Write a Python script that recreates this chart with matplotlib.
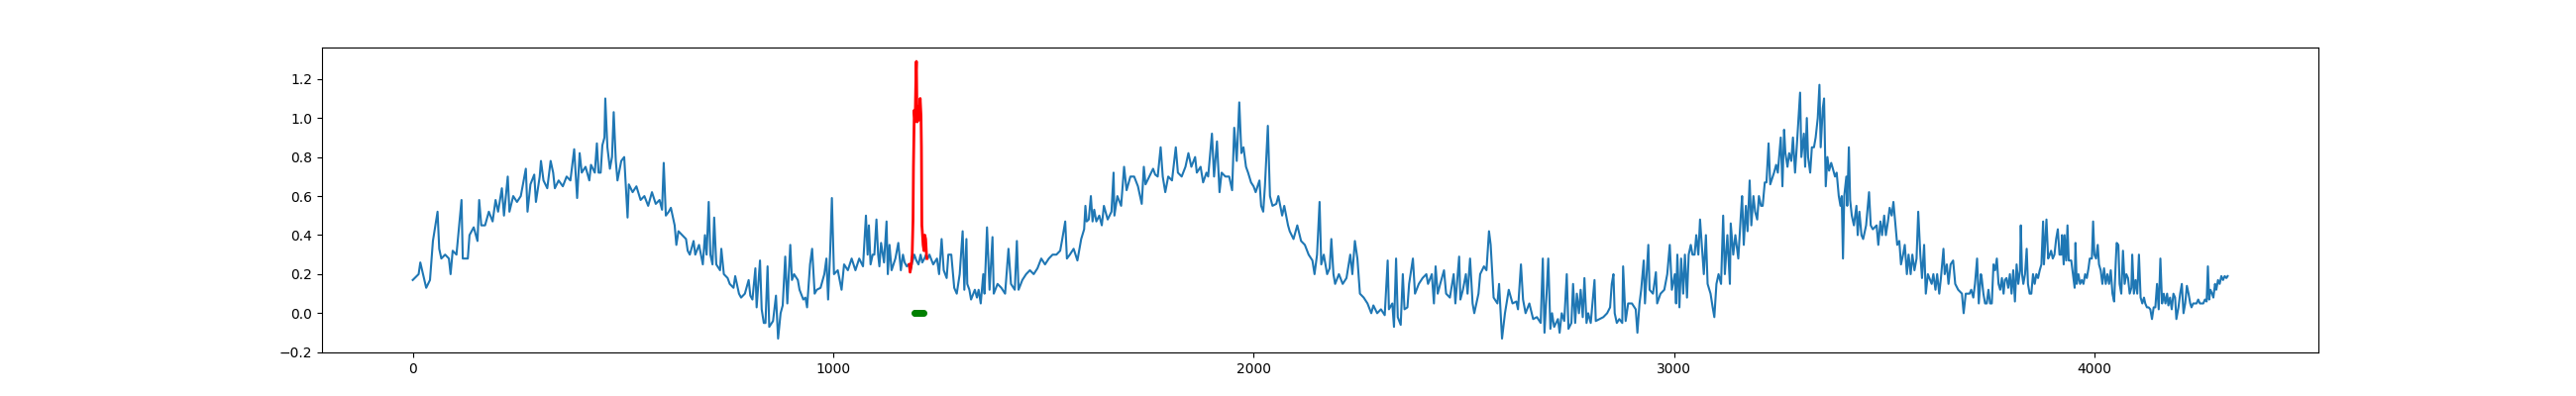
import matplotlib
matplotlib.use("Agg")
import matplotlib.pyplot as plt

# blue series: (index, value)
blue_pts = [
    (0, 0.17), (14, 0.2), (18, 0.26), (32, 0.13), (41, 0.17), (48, 0.37), (54, 0.45), (59, 0.52),
    (63, 0.33), (68, 0.28), (77, 0.3), (86, 0.28), (90, 0.2), (95, 0.32), (104, 0.3), (116, 0.58),
    (119, 0.28), (131, 0.28), (135, 0.4), (145, 0.44), (154, 0.37), (158, 0.58), (163, 0.45), (172, 0.45),
    (181, 0.52), (190, 0.47), (197, 0.58), (203, 0.52), (212, 0.64), (217, 0.5), (226, 0.7), (230, 0.52),
    (239, 0.6), (248, 0.57), (257, 0.6), (269, 0.74), (273, 0.52), (280, 0.66), (289, 0.71), (293, 0.57),
    (302, 0.7), (305, 0.78), (311, 0.68), (320, 0.64), (328, 0.78), (334, 0.72), (338, 0.64), (347, 0.68),
    (357, 0.65), (366, 0.7), (375, 0.68), (384, 0.84), (388, 0.7), (391, 0.59), (397, 0.82), (402, 0.72),
    (411, 0.75), (420, 0.68), (424, 0.76), (433, 0.72), (438, 0.87), (442, 0.72), (447, 0.72), (451, 0.86),
    (456, 0.9), (458, 1.1), (463, 0.85), (469, 0.74), (474, 0.8), (478, 1.03), (483, 0.78), (487, 0.68),
    (496, 0.78), (503, 0.8), (508, 0.6), (511, 0.49), (514, 0.66), (523, 0.62), (532, 0.65), (542, 0.58),
    (551, 0.6), (560, 0.55), (569, 0.62), (578, 0.56), (587, 0.58), (593, 0.53), (597, 0.77), (602, 0.5),
    (609, 0.52), (614, 0.54), (623, 0.45), (627, 0.35), (632, 0.42), (641, 0.4), (650, 0.38), (654, 0.32),
    (659, 0.3), (668, 0.37), (672, 0.3), (681, 0.35), (690, 0.25), (695, 0.4), (699, 0.3), (704, 0.57),
    (708, 0.3), (713, 0.25), (717, 0.49), (722, 0.25), (731, 0.22), (734, 0.33), (740, 0.2), (749, 0.18),
    (754, 0.15), (763, 0.13), (767, 0.19), (776, 0.1), (781, 0.08), (790, 0.1), (799, 0.17), (803, 0.09),
    (808, 0.07), (815, 0.23), (818, 0.03), (826, 0.27), (830, 0.02), (835, -0.05), (839, -0.05), (844, 0.24),
    (848, -0.07), (857, -0.04), (864, 0.09), (869, -0.13), (875, 0.0), (880, 0.04), (886, 0.29), (891, 0.05),
    (898, 0.35), (902, 0.17), (907, 0.2), (916, 0.17), (920, 0.12), (929, 0.07), (934, 0.08), (938, 0.03),
    (945, 0.25), (950, 0.33), (956, 0.1), (961, 0.12), (970, 0.13), (979, 0.2), (984, 0.28), (988, 0.07),
    (993, 0.32), (997, 0.59), (1002, 0.2), (1011, 0.22), (1020, 0.12),
    (1026, 0.25), (1035, 0.22), (1044, 0.28), (1053, 0.22), (1062, 0.28), (1071, 0.24), (1078, 0.5), (1082, 0.3),
    (1085, 0.45), (1089, 0.25), (1094, 0.3), (1098, 0.3), (1103, 0.48), (1107, 0.3), (1110, 0.24), (1114, 0.36),
    (1121, 0.26), (1127, 0.47), (1130, 0.2), (1134, 0.35), (1139, 0.22), (1148, 0.28), (1155, 0.36), (1161, 0.22),
    (1166, 0.3), (1170, 0.26), (1175, 0.24), (1179, 0.25), (1184, 0.22), (1188, 0.26), (1193, 0.3), (1198, 0.27),
    (1203, 0.25), (1208, 0.3), (1212, 0.26), (1217, 0.28), (1221, 0.3), (1225, 0.28), (1229, 0.3), (1238, 0.25),
    (1247, 0.28), (1252, 0.2), (1258, 0.38), (1263, 0.22), (1270, 0.18), (1274, 0.3), (1281, 0.3), (1288, 0.13),
    (1294, 0.1), (1301, 0.2), (1308, 0.42), (1312, 0.12), (1317, 0.38), (1319, 0.15), (1324, 0.12), (1328, 0.07),
    (1337, 0.12), (1342, 0.08), (1346, 0.12), (1351, 0.05), (1357, 0.2), (1360, 0.1), (1366, 0.44), (1372, 0.12),
    (1379, 0.39), (1382, 0.1), (1391, 0.15), (1400, 0.13), (1409, 0.1), (1417, 0.33), (1423, 0.15), (1432, 0.12),
    (1437, 0.37), (1441, 0.12), (1450, 0.17), (1459, 0.2), (1468, 0.22), (1477, 0.2), (1486, 0.23), (1495, 0.28),
    (1504, 0.25), (1513, 0.28), (1522, 0.3), (1531, 0.3), (1540, 0.32), (1545, 0.38), (1552, 0.47), (1556, 0.28),
    (1563, 0.3), (1572, 0.33), (1581, 0.27), (1590, 0.38), (1597, 0.43), (1600, 0.55), (1603, 0.47), (1608, 0.48),
    (1613, 0.6), (1617, 0.47), (1621, 0.53), (1626, 0.47), (1633, 0.5), (1639, 0.45), (1644, 0.55), (1653, 0.48),
    (1662, 0.52), (1667, 0.72), (1669, 0.5), (1676, 0.6), (1685, 0.55), (1692, 0.75), (1698, 0.63), (1707, 0.7),
    (1716, 0.7), (1725, 0.65), (1734, 0.56), (1739, 0.75), (1743, 0.66), (1752, 0.7), (1761, 0.74), (1766, 0.71),
    (1772, 0.7), (1779, 0.85), (1784, 0.7), (1790, 0.62), (1797, 0.7), (1806, 0.68), (1815, 0.85), (1820, 0.72),
    (1829, 0.7), (1838, 0.75), (1845, 0.82), (1852, 0.75), (1861, 0.8), (1865, 0.72), (1874, 0.75), (1880, 0.67),
    (1888, 0.72), (1892, 0.7), (1901, 0.92), (1906, 0.7), (1913, 0.88), (1919, 0.62), (1924, 0.72), (1933, 0.7),
    (1942, 0.7), (1949, 0.63), (1954, 0.95), (1960, 0.78), (1966, 1.08), (1971, 0.82), (1976, 0.85), (1982, 0.75),
    (1987, 0.72), (1994, 0.67), (2000, 0.65), (2005, 0.62), (2014, 0.68), (2018, 0.55), (2023, 0.52), (2027, 0.65),
    (2034, 0.96), (2039, 0.6), (2045, 0.55), (2054, 0.56), (2059, 0.6), (2068, 0.5), (2073, 0.55), (2082, 0.45),
    (2086, 0.42), (2095, 0.38), (2104, 0.45), (2113, 0.37), (2122, 0.35), (2131, 0.3), (2140, 0.27), (2145, 0.2),
    (2151, 0.3), (2157, 0.57), (2161, 0.25), (2167, 0.3), (2175, 0.2), (2181, 0.23), (2185, 0.38), (2190, 0.2),
    (2194, 0.15), (2203, 0.2), (2212, 0.15), (2221, 0.18), (2230, 0.3), (2235, 0.2), (2241, 0.37), (2247, 0.28),
    (2253, 0.1), (2262, 0.08), (2271, 0.05), (2280, 0.0), (2285, 0.04), (2294, 0.0), (2303, 0.02), (2312, -0.01),
    (2319, 0.27), (2322, 0.02), (2330, 0.05), (2334, -0.07), (2339, 0.28), (2343, -0.02), (2350, -0.06), (2355, 0.2),
    (2359, 0.02), (2366, 0.03), (2370, 0.15), (2379, 0.28), (2384, 0.1), (2393, 0.15), (2402, 0.18), (2411, 0.2),
    (2415, 0.15), (2424, 0.2), (2429, 0.05), (2433, 0.24),
    (2438, 0.1), (2444, 0.15), (2453, 0.22), (2458, 0.1), (2467, 0.08), (2476, 0.2), (2480, 0.05), (2489, 0.29),
    (2492, 0.07), (2498, 0.12), (2505, 0.2), (2509, 0.1), (2515, 0.28), (2521, 0.05), (2525, 0.0), (2535, 0.1),
    (2539, 0.2), (2548, 0.24), (2554, 0.22), (2560, 0.42), (2564, 0.35), (2571, 0.08), (2580, 0.05), (2584, 0.15),
    (2589, -0.05), (2591, -0.13), (2598, 0.0), (2607, 0.12), (2616, 0.05), (2625, 0.06), (2629, 0.02), (2636, 0.25),
    (2641, 0.07), (2647, 0.0), (2656, 0.05), (2665, -0.03), (2674, -0.02), (2683, -0.05), (2688, 0.28), (2692, -0.1),
    (2697, 0.1), (2701, 0.28), (2706, -0.08), (2710, 0.0), (2715, -0.07), (2724, -0.03), (2728, -0.1), (2733, 0.0),
    (2739, -0.04), (2745, 0.2), (2749, -0.08), (2756, -0.05), (2760, 0.15), (2765, -0.05), (2769, 0.1), (2774, 0.0),
    (2778, 0.12), (2783, -0.02), (2787, 0.18), (2792, -0.05), (2796, 0.0), (2802, -0.05), (2811, 0.17), (2814, -0.04),
    (2823, -0.03), (2832, -0.02), (2841, 0.0), (2848, 0.03), (2852, 0.15), (2856, 0.2), (2859, 0.0), (2864, -0.05),
    (2870, -0.03), (2877, -0.05), (2879, 0.24), (2885, -0.04), (2891, 0.05), (2900, 0.05), (2909, 0.02), (2913, -0.1),
    (2918, 0.05), (2922, 0.12), (2928, 0.27), (2931, 0.05), (2939, 0.35), (2942, 0.12), (2950, 0.1), (2957, 0.21),
    (2960, 0.05), (2968, 0.1), (2977, 0.12), (2984, 0.2), (2990, 0.35), (2995, 0.12), (3002, 0.2), (3005, 0.05),
    (3008, 0.3), (3013, 0.03), (3017, 0.28), (3022, 0.1), (3026, 0.3), (3031, 0.08), (3035, 0.3), (3040, 0.35),
    (3044, 0.3), (3049, 0.3), (3053, 0.4), (3058, 0.3), (3062, 0.48), (3067, 0.32), (3071, 0.2), (3076, 0.4),
    (3080, 0.15), (3087, 0.1), (3092, 0.03), (3096, -0.02), (3101, 0.15), (3106, 0.2), (3112, 0.15), (3117, 0.5),
    (3121, 0.2), (3127, 0.4), (3133, 0.15), (3135, 0.46), (3141, 0.3), (3146, 0.4), (3153, 0.28), (3159, 0.5),
    (3162, 0.6), (3166, 0.35), (3171, 0.55), (3175, 0.42), (3180, 0.68), (3184, 0.45), (3189, 0.6), (3193, 0.52),
    (3198, 0.48), (3202, 0.6), (3207, 0.55), (3211, 0.55), (3216, 0.67), (3220, 0.67), (3225, 0.87), (3229, 0.66),
    (3238, 0.72), (3243, 0.76), (3247, 0.72), (3254, 0.9), (3258, 0.65), (3262, 0.94), (3265, 0.82), (3270, 0.75),
    (3274, 0.82), (3279, 0.78), (3283, 0.9), (3288, 0.72), (3292, 0.85), (3300, 1.13), (3303, 0.8), (3309, 0.92),
    (3312, 0.75), (3316, 1.0), (3319, 0.8), (3324, 0.72), (3328, 0.85), (3333, 0.85), (3337, 0.9), (3342, 1.0),
    (3346, 1.17), (3349, 0.85), (3354, 1.05), (3357, 1.1), (3361, 0.65), (3365, 0.8), (3369, 0.73), (3374, 0.77),
    (3378, 0.74), (3383, 0.7), (3387, 0.72), (3392, 0.6), (3396, 0.55), (3399, 0.6), (3402, 0.28), (3405, 0.6),
    (3410, 0.7), (3412, 0.55), (3416, 0.85), (3419, 0.58), (3423, 0.5), (3428, 0.45), (3434, 0.55), (3437, 0.4),
    (3441, 0.52), (3446, 0.4), (3450, 0.38), (3457, 0.45), (3464, 0.62), (3468, 0.45), (3473, 0.43), (3482, 0.45),
    (3486, 0.35), (3491, 0.47), (3495, 0.4), (3500, 0.5), (3504, 0.4), (3509, 0.47), (3513, 0.54), (3518, 0.5),
    (3522, 0.57), (3527, 0.45), (3531, 0.35), (3536, 0.37), (3540, 0.25), (3545, 0.3), (3549, 0.35), (3554, 0.2),
    (3558, 0.3), (3563, 0.2), (3567, 0.3), (3572, 0.22), (3577, 0.28), (3581, 0.52), (3586, 0.3), (3590, 0.18),
    (3595, 0.35), (3599, 0.1), (3604, 0.2), (3613, 0.15), (3617, 0.2), (3622, 0.12), (3626, 0.2), (3631, 0.1),
    (3635, 0.18), (3641, 0.33), (3644, 0.2), (3649, 0.25), (3653, 0.15), (3658, 0.25), (3664, 0.27), (3669, 0.15),
    (3676, 0.12), (3685, 0.1), (3689, 0.0), (3694, 0.1), (3703, 0.1), (3707, 0.12), (3712, 0.08), (3716, 0.15),
    (3721, 0.28), (3725, 0.05), (3730, 0.2),
    (3732, 0.18), (3736, 0.1), (3740, 0.05), (3744, 0.05), (3748, 0.12), (3752, 0.05), (3756, 0.05), (3760, 0.25),
    (3764, 0.22), (3768, 0.28), (3772, 0.15), (3776, 0.12), (3780, 0.18), (3784, 0.1), (3787, 0.17), (3791, 0.18),
    (3795, 0.13), (3799, 0.2), (3803, 0.1), (3807, 0.22), (3811, 0.06), (3815, 0.25), (3819, 0.15), (3823, 0.22),
    (3825, 0.45), (3828, 0.2), (3831, 0.15), (3835, 0.2), (3839, 0.33), (3842, 0.15), (3846, 0.1), (3850, 0.1),
    (3854, 0.2), (3858, 0.15), (3862, 0.2), (3866, 0.18), (3870, 0.22), (3874, 0.25), (3878, 0.47), (3880, 0.25),
    (3886, 0.48), (3890, 0.28), (3894, 0.3), (3897, 0.32), (3901, 0.28), (3905, 0.3), (3909, 0.38), (3913, 0.43),
    (3917, 0.3), (3921, 0.3), (3923, 0.4), (3927, 0.25), (3929, 0.4), (3933, 0.27), (3936, 0.45), (3939, 0.27),
    (3945, 0.27), (3949, 0.2), (3953, 0.13), (3955, 0.36), (3958, 0.15), (3962, 0.2), (3966, 0.15), (3970, 0.17),
    (3974, 0.15), (3978, 0.2), (3982, 0.18), (3986, 0.23), (3989, 0.28), (3994, 0.28), (3997, 0.47), (4000, 0.3),
    (4004, 0.28), (4008, 0.35), (4011, 0.25), (4015, 0.22), (4019, 0.15), (4023, 0.23), (4027, 0.15), (4031, 0.2),
    (4035, 0.15), (4039, 0.22), (4043, 0.1), (4047, 0.06), (4051, 0.27), (4053, 0.36), (4057, 0.35), (4060, 0.15),
    (4064, 0.1), (4068, 0.32), (4072, 0.15), (4076, 0.2), (4080, 0.18), (4084, 0.1), (4088, 0.13), (4090, 0.3),
    (4094, 0.1), (4098, 0.17), (4102, 0.1), (4106, 0.3), (4110, 0.08), (4114, 0.05), (4118, 0.08), (4121, 0.05),
    (4125, 0.03), (4129, 0.03), (4133, 0.02), (4137, -0.03), (4141, 0.03), (4145, 0.03), (4149, 0.15), (4153, 0.02),
    (4157, 0.28), (4161, 0.05), (4165, 0.1), (4169, 0.05), (4173, 0.1), (4176, 0.04), (4180, 0.08), (4184, 0.02),
    (4188, 0.1), (4192, 0.08), (4195, -0.03), (4200, 0.03), (4204, 0.1), (4208, 0.15), (4212, 0.0), (4216, 0.05),
    (4220, 0.14), (4224, 0.1), (4228, 0.05), (4231, 0.03), (4235, 0.05), (4239, 0.05), (4243, 0.05), (4247, 0.07),
    (4251, 0.05), (4255, 0.05), (4259, 0.05), (4263, 0.07), (4267, 0.06), (4270, 0.24), (4273, 0.07), (4276, 0.12),
    (4280, 0.1), (4283, 0.08), (4287, 0.15), (4290, 0.12), (4294, 0.17), (4298, 0.15), (4302, 0.19), (4306, 0.17),
    (4310, 0.19), (4314, 0.18), (4317, 0.19),
]

# anomaly segment (red)
red_x = [1181, 1183, 1186, 1188, 1190, 1191, 1193, 1195, 1197, 1198, 1199, 1200, 1202, 1204, 1205,
         1207, 1209, 1210, 1211, 1212, 1214, 1216, 1218, 1220, 1222, 1223]
red_y = [0.25, 0.21, 0.25, 0.3, 0.48, 0.75, 1.04, 0.98, 1.23, 1.29, 1.1, 0.98, 1.06, 0.99, 1.03,
         1.1, 1.01, 0.85, 0.45, 0.42, 0.35, 0.32, 0.4, 0.38, 0.3, 0.28]

# detected points (green)
green_x = [1193, 1196, 1199, 1202, 1205, 1208, 1211, 1214]
green_y = [0, 0, 0, 0, 0, 0, 0, 0]

blue_x = [p[0] for p in blue_pts]
blue_y = [p[1] for p in blue_pts]

fig, ax = plt.subplots(figsize=(26, 4), dpi=100)
ax.plot(blue_x, blue_y, color='#1f77b4', linewidth=1.5)
ax.plot(red_x, red_y, color='red', linewidth=2)
ax.plot(green_x, green_y, 'o', color='green', markersize=4)

fig.savefig("out.png", dpi=100)
